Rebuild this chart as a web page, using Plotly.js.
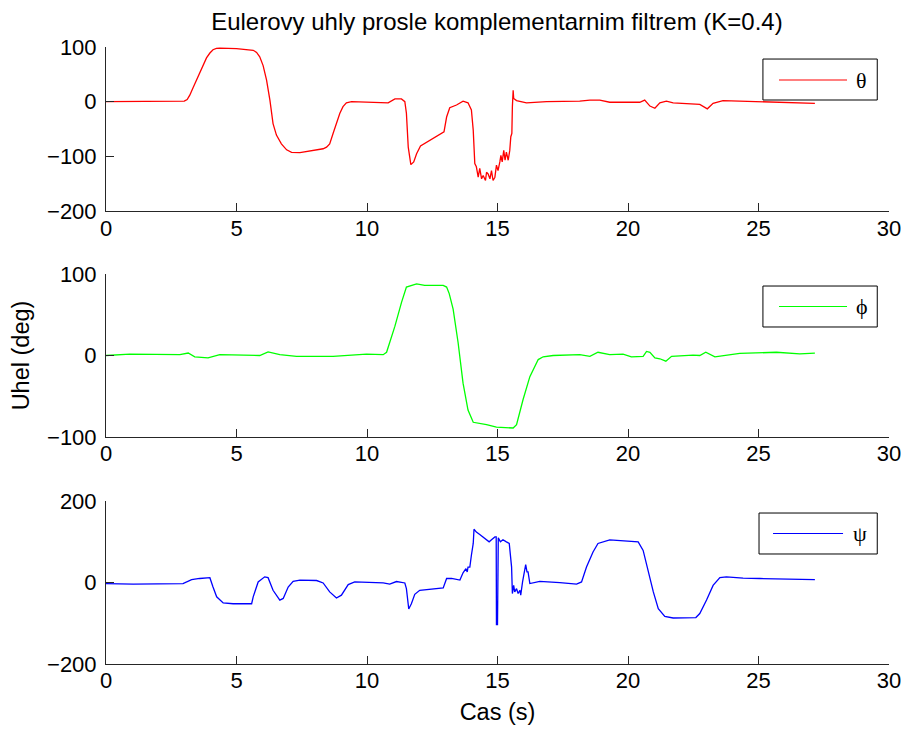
<!DOCTYPE html>
<html>
<head>
<meta charset="utf-8">
<script src="https://cdn.plot.ly/plotly-3.0.1.min.js"></script>
<style>html,body{margin:0;padding:0;background:#fff;}#chart{width:906px;height:729px;}</style>
</head>
<body>
<div id="chart"></div>
<script>
// ---- data ----
const thetaT = [0, 1.5, 3.0, 3.11, 3.21, 3.34, 3.47, 3.59, 3.72, 3.85, 3.98, 4.10, 4.23, 4.36, 5.0, 5.51, 5.64, 5.77, 5.89, 6.02, 6.15, 6.28, 6.40, 6.53, 6.72, 6.92, 7.11, 7.43, 8.32, 8.45, 8.57, 8.70, 8.83, 8.96, 9.08, 9.21, 9.41, 10.0, 10.49, 10.81, 11.07, 11.32, 11.45, 11.51, 11.58, 11.68, 11.79, 11.90, 12.05, 12.41, 12.53, 12.79, 12.95, 13.05, 13.17, 13.43, 13.68, 13.87, 14.0, 14.07, 14.13, 14.19, 14.26, 14.32, 14.39, 14.45, 14.54, 14.58, 14.64, 14.71, 14.77, 14.83, 14.90, 14.96, 15.02, 15.09, 15.13, 15.18, 15.24, 15.29, 15.34, 15.41, 15.47, 15.51, 15.55, 15.57, 15.60, 15.62, 15.73, 16.11, 16.88, 18.15, 18.54, 18.92, 19.30, 20.45, 20.64, 20.84, 21.03, 21.22, 21.47, 21.73, 22.75, 23.04, 23.26, 23.64, 24.54, 25.56, 27.16];
const thetaV = [0, 0, 1, 4, 12, 26, 40, 55, 69, 80, 89, 95, 97.5, 98, 97, 95, 94, 90, 82, 66, 40, 3, -40, -61, -77, -88, -92.5, -93, -86, -83, -77, -58, -40, -21, -9, -2, 0, -1, -2, -2, 5, 5, 0, -21, -83, -115, -110, -95, -81, -70, -67, -60, -55, -28, -11, -6, 1, -2, -15, -52, -113, -119, -138, -122, -141, -135, -144, -129, -132, -141, -126, -144, -138, -116, -126, -110, -98, -110, -89, -107, -92, -107, -89, -64, -58, -9, 21, 6, 2, -2, 0, 1, 3, 3, -1, -1, 3, -8, -12, -2, 1, -2, -5, -13, -3, 2, 1, -1, -3];

const phiT = [0, 0.91, 2.83, 3.15, 3.40, 3.91, 4.36, 5.89, 6.21, 6.66, 7.30, 8.70, 9.98, 10.62, 10.75, 11.07, 11.32, 11.51, 11.90, 12.21, 12.92, 13.05, 13.15, 13.30, 13.49, 13.68, 13.87, 14.07, 14.58, 14.96, 15.60, 15.73, 15.98, 16.24, 16.56, 16.75, 17.13, 18.15, 18.54, 18.85, 19.30, 19.81, 20.13, 20.58, 20.71, 20.84, 21.03, 21.22, 21.45, 21.67, 22.49, 22.75, 22.98, 23.33, 24.28, 25.69, 26.58, 27.16];
const phiV = [0, 1.6, 1, 3, -1.6, -3, 1, 0, 4.5, 1, -1, -1, 1.6, 1, 4, 36, 65, 84, 88, 86, 86, 84, 76, 57, 16, -34, -67, -82, -85, -88, -89, -85, -54, -26, -5, -1.6, 0, 1, -1, 4, 1, 1.6, -1.6, -1, 5, 4, -3, -4, -7, -1, 0.4, 0, 4, -1.6, 2.5, 4, 2, 3];

const psiT = [0, 1.04, 2.95, 3.28, 3.59, 3.98, 4.10, 4.24, 4.49, 4.87, 5.58, 5.64, 5.83, 6.08, 6.21, 6.40, 6.66, 6.79, 6.98, 7.17, 7.43, 8.07, 8.32, 8.57, 8.83, 9.02, 9.28, 9.53, 10.62, 10.87, 11.13, 11.26, 11.45, 11.51, 11.60, 11.70, 11.83, 12.02, 12.41, 12.92, 13.05, 13.24, 13.56, 13.68, 13.79, 13.84, 13.87, 13.94, 14.00, 14.07, 14.10, 14.19, 14.32, 14.58, 14.68, 14.77, 14.90, 14.95, 14.96, 15.00, 15.01, 15.03, 15.11, 15.21, 15.34, 15.45, 15.54, 15.57, 15.62, 15.66, 15.73, 15.79, 15.86, 15.89, 15.96, 16.05, 16.08, 16.13, 16.17, 16.24, 16.62, 17.39, 18.03, 18.22, 18.41, 18.66, 18.85, 19.30, 19.94, 20.39, 20.58, 20.77, 20.97, 21.16, 21.41, 21.73, 22.60, 22.75, 23.01, 23.26, 23.52, 23.77, 24.41, 25.05, 26.32, 27.16];
const psiV = [-2.5, -4, -2.5, 7, 10, 12, -11, -35, -50, -52, -52, -35, 1.5, 14, 12, -19, -43, -39, -11, 3, 6, 5, -1, -23, -38, -31, -5, 1.5, -1, -4, 2.5, 1.5, -1, -15, -65, -52, -29, -19, -17, -13, 10, 10, 6, 24, 34, 26, 38, 38, 67, 96, 131, 124, 118, 105, 100, 105, 112, 112, -103, -103, 110, 110, 100, 105, 100, 96, 38, -27, -7, -23, -15, -27, -19, -31, 1.5, 34, 44, 26, 26, -2.5, 3, 0, -4, 1.5, 38, 75, 96, 105, 102, 100, 79, 30, -23, -64, -83, -87, -86, -76, -43, -7, 12, 14, 11, 10, 9, 7];

const seriesNames = ['θ', 'ϕ', 'ψ'];
const seriesColors = ['#ff0000', '#00ff00', '#0000ff'];
const xTicks = [0, 5, 10, 15, 20, 25, 30];
const yTicks1 = [-200, -100, 0, 100];
const yTicks2 = [-100, 0, 100];
const yTicks3 = [-200, 0, 200];
const titleText = 'Eulerovy uhly prosle komplementarnim filtrem (K=0.4)';
const xTitle = 'Cas (s)';
const yTitle = 'Uhel (deg)';

[[thetaT, thetaV], [phiT, phiV], [psiT, psiV]].forEach(function (p, i) {
  if (p[0].length !== p[1].length) throw new Error('length mismatch in series ' + i + ': ' + p[0].length + ' vs ' + p[1].length);
});

const FAM = 'Liberation Sans, Arial, Helvetica, sans-serif';
function tf() { return {family: FAM, size: 22, color: '#000'}; }
function lf() { return {family: FAM, size: 23.5, color: '#000'}; }

function xax(anchor, title) {
  const a = {
    domain: [0, 1], range: [0, 30], anchor: anchor,
    tickvals: xTicks, ticks: 'inside', ticklen: 8, tickwidth: 1, tickcolor: '#262626',
    showline: true, linecolor: '#262626', linewidth: 1, showgrid: false, zeroline: false,
    tickfont: tf(), fixedrange: true, ticklabelstandoff: -3
  };
  if (title) a.title = {text: title, font: lf(), standoff: 11};
  return a;
}
function yax(anchor, domain, range, vals, title) {
  const a = {
    domain: domain, range: range, anchor: anchor,
    tickvals: vals, ticks: 'inside', ticklen: 8, tickwidth: 1, tickcolor: '#262626',
    showline: true, linecolor: '#262626', linewidth: 1, showgrid: false, zeroline: false,
    tickfont: tf(), fixedrange: true, ticklabelstandoff: 4
  };
  if (title) a.title = {text: title, font: lf(), standoff: 10};
  return a;
}

const traces = [
  {x: thetaT, y: thetaV, xaxis: 'x', yaxis: 'y'},
  {x: phiT, y: phiV, xaxis: 'x2', yaxis: 'y2'},
  {x: psiT, y: psiV, xaxis: 'x3', yaxis: 'y3'}
].map(function (t, i) {
  return Object.assign(t, {type: 'scatter', mode: 'lines', name: seriesNames[i],
    line: {color: seriesColors[i], width: 1.3}, showlegend: false, hoverinfo: 'skip'});
});

// legend boxes (drawn MATLAB-style: long sample line, symbol at right)
const legendBoxes = [
  {x0: 0.839, x1: 0.985, y0: 0.9141, y1: 0.9805, lx0: 0.8595, lx1: 0.9464, ly: 0.9465, tx: 0.9655},
  {x0: 0.839, x1: 0.985, y0: 0.5462, y1: 0.6126, lx0: 0.8595, lx1: 0.9464, ly: 0.5794, tx: 0.9655},
  {x0: 0.834, x1: 0.985, y0: 0.1783, y1: 0.2447, lx0: 0.8519, lx1: 0.9413, ly: 0.2115, tx: 0.9630}
];
const shapes = [];
const annotations = [];
legendBoxes.forEach(function (b, i) {
  shapes.push({type: 'rect', xref: 'paper', yref: 'paper', x0: b.x0, x1: b.x1, y0: b.y0, y1: b.y1,
    line: {color: '#000', width: 1}, fillcolor: '#fff', layer: 'above'});
  shapes.push({type: 'line', xref: 'paper', yref: 'paper', x0: b.lx0, x1: b.lx1, y0: b.ly, y1: b.ly,
    line: {color: seriesColors[i], width: 1.2}, layer: 'above'});
  annotations.push({xref: 'paper', yref: 'paper', x: b.tx, y: b.ly, text: seriesNames[i], showarrow: false,
    xanchor: 'center', yanchor: 'middle', font: {family: 'Liberation Serif, Times New Roman, serif', size: 22, color: '#000'}});
});

const layout = {
  width: 906, height: 729,
  margin: {l: 106, r: 17, t: 47, b: 65},
  paper_bgcolor: '#fff', plot_bgcolor: '#fff',
  showlegend: false,
  title: {text: titleText, x: 0.5485, xanchor: 'center', y: 0.9698, yanchor: 'middle', font: {family: FAM, size: 24, color: '#000'}},
  xaxis: xax('y'),
  yaxis: yax('x', [0.734, 1], [-200, 100], yTicks1),
  xaxis2: xax('y2'),
  yaxis2: yax('x2', [0.368, 0.632], [-100, 100], yTicks2, yTitle),
  xaxis3: xax('y3', xTitle),
  yaxis3: yax('x3', [0, 0.264], [-200, 200], yTicks3),
  shapes: shapes,
  annotations: annotations
};

Plotly.newPlot('chart', traces, layout, {displayModeBar: false, staticPlot: true});
</script>
</body>
</html>
